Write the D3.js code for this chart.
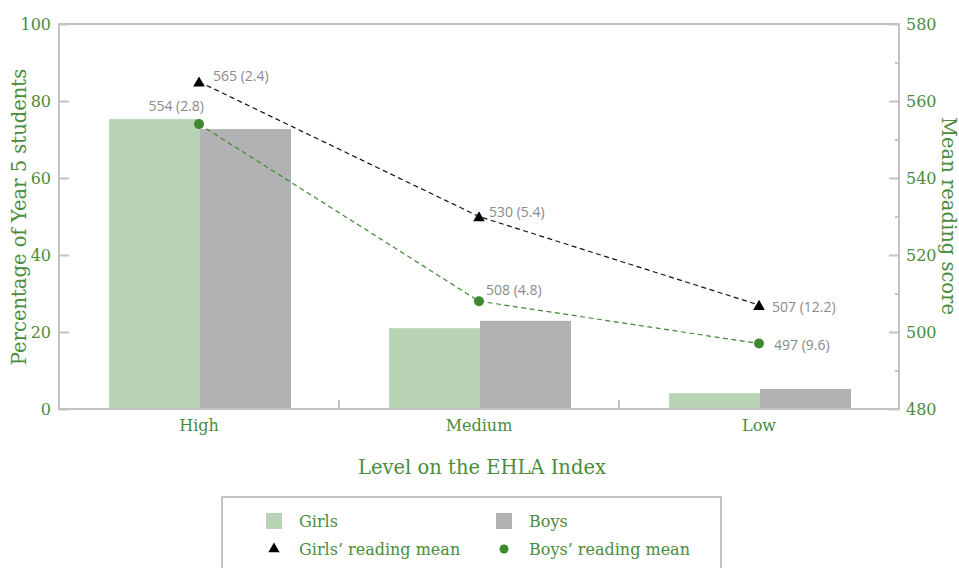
<!DOCTYPE html>
<html lang="en">
<head>
<meta charset="utf-8">
<title>EHLA reading</title>
<style>
  body { margin: 0; background: #fff; }
  svg { display: block; }
</style>
</head>
<body>
<script src="https://cdn.jsdelivr.net/npm/d3@7"></script>
<script>
// data
const categories = ["High", "Medium", "Low"];
const girlsPct = [75.3, 21.0, 4.1];
const boysPct = [72.7, 22.9, 5.2];
const girlsMean = [565, 530, 507];
const girlsSE = ["2.4", "5.4", "12.2"];
const boysMean = [554, 508, 497];
const boysSE = ["2.8", "4.8", "9.6"];
const leftTicks = [0, 20, 40, 60, 80, 100];
const rightTicks = [480, 500, 520, 540, 560, 580];

const W = 959, H = 568;
const m = { left: 59, right: 899, top: 24, bottom: 409 };
const green = "#3d8a31", textGreen = "#4a8c3c", frame = "#c3c3c6";
const serif = "'DejaVu Serif', serif";
const sans = "'Open Sans', 'DejaVu Sans', sans-serif";

const svg = d3.select("body").append("svg").attr("width", W).attr("height", H);

const x = d3.scaleBand().domain(categories).range([m.left, m.right]);
const xs = d3.scaleBand().domain(["g", "b"]).range([0, x.bandwidth() * 0.65]);
const off = (x.bandwidth() - x.bandwidth() * 0.65) / 2 + 1;
const yL = d3.scaleLinear().domain([0, 100]).range([m.bottom, m.top]);
const yR = d3.scaleLinear().domain([480, 580]).range([m.bottom, m.top]);

// bars
const bars = svg.append("g");
categories.forEach((c, i) => {
  bars.append("rect").attr("x", x(c) + off + xs("g")).attr("width", xs.bandwidth())
    .attr("y", yL(girlsPct[i])).attr("height", yL(0) - yL(girlsPct[i])).attr("fill", "#b9d3b6");
  bars.append("rect").attr("x", x(c) + off + xs("b")).attr("width", xs.bandwidth())
    .attr("y", yL(boysPct[i])).attr("height", yL(0) - yL(boysPct[i])).attr("fill", "#b2b2b4");
});

// frame
svg.append("rect").attr("x", m.left).attr("y", m.top)
  .attr("width", m.right - m.left).attr("height", m.bottom - m.top)
  .attr("fill", "none").attr("stroke", frame).attr("stroke-width", 2);

// left axis
const gl = svg.append("g").attr("transform", `translate(${m.left},0)`)
  .call(d3.axisLeft(yL).tickValues(leftTicks).tickSize(-10).tickPadding(8));
gl.select(".domain").remove();
gl.selectAll("line").attr("stroke", frame).attr("stroke-width", 2);
gl.selectAll("text").attr("fill", textGreen).attr("font-family", serif).attr("font-size", 16)
  .attr("dy", "0.35em");

// right axis, with unlabelled minor ticks
const gr = svg.append("g").attr("transform", `translate(${m.right},0)`)
  .call(d3.axisRight(yR).tickValues(d3.range(490, 580, 20)).tickSize(-4).tickFormat(""));
gr.select(".domain").remove();
gr.selectAll("line").attr("stroke", frame).attr("stroke-width", 2);
const gr2 = svg.append("g").attr("transform", `translate(${m.right},0)`)
  .call(d3.axisRight(yR).tickValues(rightTicks).tickSize(-10).tickPadding(7));
gr2.select(".domain").remove();
gr2.selectAll("line").attr("stroke", frame).attr("stroke-width", 2);
gr2.selectAll("text").attr("fill", textGreen).attr("font-family", serif).attr("font-size", 16)
  .attr("dy", "0.35em");

// bottom category separators and labels
const gb = svg.append("g").attr("transform", `translate(0,${m.bottom})`)
  .call(d3.axisBottom(x).tickSize(0).tickPadding(11));
gb.select(".domain").remove();
gb.selectAll("text").attr("fill", textGreen).attr("font-family", serif).attr("font-size", 16);
svg.append("g").selectAll("line").data(categories.slice(1)).join("line")
  .attr("x1", d => x(d)).attr("x2", d => x(d))
  .attr("y1", m.bottom).attr("y2", m.bottom - 9)
  .attr("stroke", frame).attr("stroke-width", 2);

// axis titles
svg.append("text").attr("x", 482).attr("y", 474)
  .attr("text-anchor", "middle").attr("fill", textGreen).attr("font-family", serif)
  .attr("font-size", 19.5).text("Level on the EHLA Index");
svg.append("text").attr("transform", `translate(26,217) rotate(-90)`)
  .attr("text-anchor", "middle").attr("fill", textGreen).attr("font-family", serif)
  .attr("font-size", 19.5).text("Percentage of Year 5 students");
svg.append("text").attr("transform", `translate(942,216) rotate(90)`)
  .attr("text-anchor", "middle").attr("fill", textGreen).attr("font-family", serif)
  .attr("font-size", 19.5).text("Mean reading score");

// lines
const cx = c => x(c) + x.bandwidth() / 2;
const line = d3.line().x(d => cx(d[0])).y(d => yR(d[1]));
svg.append("path").datum(categories.map((c, i) => [c, girlsMean[i]]))
  .attr("d", line).attr("fill", "none").attr("stroke", "#111")
  .attr("stroke-width", 1.2).attr("stroke-dasharray", "5,3.5");
svg.append("path").datum(categories.map((c, i) => [c, boysMean[i]]))
  .attr("d", line).attr("fill", "none").attr("stroke", green)
  .attr("stroke-width", 1.2).attr("stroke-dasharray", "5,3.5");

const tri = d3.symbol().type(d3.symbolTriangle).size(58);
svg.append("g").selectAll("path").data(categories).join("path")
  .attr("transform", (c, i) => `translate(${cx(c)},${yR(girlsMean[i]) + 1.5})`)
  .attr("d", tri).attr("fill", "#000");
svg.append("g").selectAll("circle").data(categories).join("circle")
  .attr("cx", c => cx(c)).attr("cy", (c, i) => yR(boysMean[i]))
  .attr("r", 5).attr("fill", green);

// value labels: [dx, dy, anchor]
const labelPos = {
  girls: [[14, -6, "start"], [10, -4.5, "start"], [13, 2, "start"]],
  boys: [[5, -18, "end"], [7, -11, "start"], [15, 2, "start"]]
};
const lbl = svg.append("g").attr("font-family", sans).attr("font-size", 14).attr("fill", "#8a8a8a");
categories.forEach((c, i) => {
  const [gx, gy, ga] = labelPos.girls[i];
  lbl.append("text").attr("x", cx(c) + gx).attr("y", yR(girlsMean[i]) + gy)
    .attr("text-anchor", ga).attr("dy", "0.35em").text(`${girlsMean[i]} (${girlsSE[i]})`);
  const [bx, by, ba] = labelPos.boys[i];
  lbl.append("text").attr("x", cx(c) + bx).attr("y", yR(boysMean[i]) + by)
    .attr("text-anchor", ba).attr("dy", "0.35em").text(`${boysMean[i]} (${boysSE[i]})`);
});

// legend
const lg = svg.append("g");
lg.append("rect").attr("x", 222).attr("y", 497).attr("width", 499).attr("height", 80)
  .attr("fill", "#fff").attr("stroke", frame).attr("stroke-width", 2);
const legendItems = [
  { label: "Girls", kind: "rect", color: "#b9d3b6", x: 266, y: 521 },
  { label: "Boys", kind: "rect", color: "#b2b2b4", x: 496, y: 521 },
  { label: "Girls\u2019 reading mean", kind: "tri", color: "#000", x: 266, y: 549 },
  { label: "Boys\u2019 reading mean", kind: "circle", color: green, x: 496, y: 549 }
];
legendItems.forEach(d => {
  if (d.kind === "rect") {
    lg.append("rect").attr("x", d.x).attr("y", d.y - 8).attr("width", 16).attr("height", 16).attr("fill", d.color);
  } else if (d.kind === "tri") {
    lg.append("path").attr("transform", `translate(${d.x + 8},${d.y})`)
      .attr("d", d3.symbol().type(d3.symbolTriangle).size(55)).attr("fill", d.color);
  } else {
    lg.append("circle").attr("cx", d.x + 8).attr("cy", d.y).attr("r", 4.5).attr("fill", d.color);
  }
  lg.append("text").attr("x", d.x + 33).attr("y", d.y).attr("dy", "0.35em")
    .attr("fill", textGreen).attr("font-family", serif).attr("font-size", 16).text(d.label);
});
</script>
</body>
</html>
